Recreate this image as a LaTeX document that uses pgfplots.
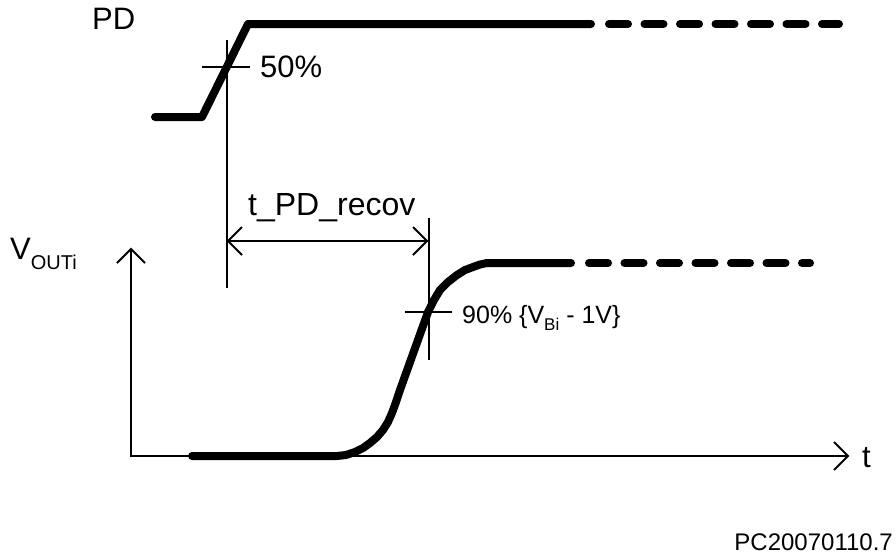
\documentclass[border=0pt]{standalone}
\usepackage{fontspec}
\setmainfont{Liberation Sans}
\usepackage{pgfplots}
\pgfplotsset{compat=1.18}
\begin{document}
\begin{tikzpicture}
\begin{axis}[at={(0,0)}, anchor=south west, scale only axis,
  width=896pt, height=558pt, xmin=0, xmax=896, ymin=0, ymax=558,
  y dir=reverse, hide axis, clip=false]
% PD signal
\addplot[black, line width=8pt, line cap=round, line join=round] coordinates {(155,117)(202,117)(248,24)(591,24)};
\addplot[black, line width=8pt, line cap=round, dash pattern=on 19pt off 16.5pt] coordinates {(609,24)(839,24)};
% 50% marker
\addplot[black, line width=2pt] coordinates {(227,40)(227,288)};
\addplot[black, line width=2pt] coordinates {(202,67)(250,67)};
% axes
\addplot[black, line width=2pt] coordinates {(131,250)(131,456)(848,456)};
\addplot[black, line width=2pt, line join=miter] coordinates {(117,263)(131,249)(145,263)};
\addplot[black, line width=2pt, line join=miter] coordinates {(834,442)(848,456)(834,470)};
% VOUT signal
\addplot[black, line width=8pt, line cap=round, line join=round] coordinates {
(192,456)(337,456)(346,455)(355,452)(363,448)(370,443)(377,437)(383,430)(388,422)(392,413)(396,402)(400,390)(414,351)(428,312)(434,300)(440,290)(448,282)(457,275)(465,270)(473,267)(480,264.5)(487,263)(571,263)};
\addplot[black, line width=8pt, line cap=round, dash pattern=on 19pt off 16.5pt] coordinates {(589,263)(810,263)};
% 90% marker
\addplot[black, line width=2pt] coordinates {(429,218)(429,360)};
\addplot[black, line width=2pt] coordinates {(405,312)(452,312)};
% t_PD_recov arrow
\addplot[black, line width=2pt] coordinates {(227,241)(429,241)};
\addplot[black, line width=2pt, line join=miter] coordinates {(242,227)(228,241)(242,255)};
\addplot[black, line width=2pt, line join=miter] coordinates {(413,227)(427,241)(413,255)};
% texts
\node[anchor=base west, inner sep=0pt, font=\fontsize{31}{31}\selectfont] at (axis cs:92,29) {PD};
\node[anchor=base west, inner sep=0pt, font=\fontsize{31}{31}\selectfont] at (axis cs:260,77) {50\%};
\node[anchor=base west, inner sep=0pt, font=\fontsize{32}{32}\selectfont] at (axis cs:248,215) {t\_PD\_recov};
\node[anchor=base west, inner sep=0pt, font=\fontsize{31}{31}\selectfont] at (axis cs:10,259) {V\raisebox{-10pt}{\fontsize{20}{20}\selectfont OUTi}};
\node[anchor=base west, inner sep=0pt, font=\fontsize{31}{31}\selectfont] at (axis cs:862,467) {t};
\node[anchor=base west, inner sep=0pt, font=\fontsize{25}{25}\selectfont] at (axis cs:462,323) {90\% \{V\raisebox{-7pt}{\fontsize{17}{17}\selectfont Bi} - 1V\}};
\node[anchor=base east, inner sep=0pt, font=\fontsize{24}{24}\selectfont] at (axis cs:893,550) {PC20070110.7};
\end{axis}
\pgfresetboundingbox
\path[use as bounding box] (0,0) rectangle (896pt,558pt);
\end{tikzpicture}
\end{document}
